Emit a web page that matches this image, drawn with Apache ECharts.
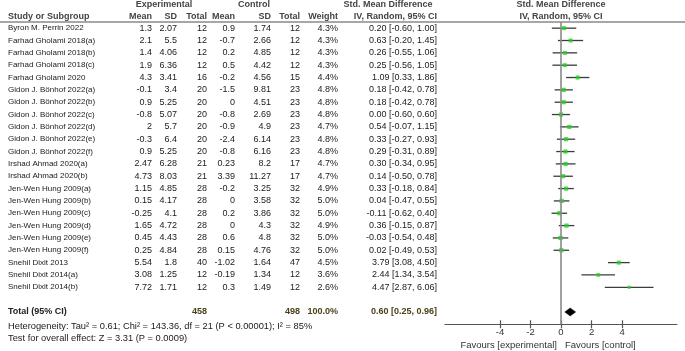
<!DOCTYPE html>
<html><head><meta charset="utf-8">
<script src="https://cdn.jsdelivr.net/npm/echarts@6/dist/echarts.min.js"></script>
<style>html,body{margin:0;padding:0;background:#fff}#c{width:685px;height:351px}</style>
</head><body><div id="c"></div>
<script>
const studies = ["Byron M. Perrin 2022","Farhad Gholami 2018(a)","Farhad Gholami 2018(b)","Farhad Gholami 2018(c)","Farhad Gholami 2020",
 "Gidon J. Bönhof 2022(a)","Gidon J. Bönhof 2022(b)","Gidon J. Bönhof 2022(c)","Gidon J. Bönhof 2022(d)","Gidon J. Bönhof 2022(e)","Gidon J. Bönhof 2022(f)",
 "Irshad Ahmad 2020(a)","Irshad Ahmad 2020(b)",
 "Jen-Wen Hung 2009(a)","Jen-Wen Hung 2009(b)","Jen-Wen Hung 2009(c)","Jen-Wen Hung 2009(d)","Jen-Wen Hung 2009(e)","Jen-Wen Hung 2009(f)",
 "Snehil Dixit 2013","Snehil Dixit 2014(a)","Snehil Dixit 2014(b)"];
const expMean = [1.3,2.1,1.4,1.9,4.3,-0.1,0.9,-0.8,2,-0.3,0.9,2.47,4.73,1.15,0.15,-0.25,1.65,0.45,0.25,5.54,3.08,7.72];
const expSD   = [2.07,5.5,4.06,6.36,3.41,3.4,5.25,5.07,5.7,6.4,5.25,6.28,8.03,4.85,4.17,4.1,4.72,4.43,4.84,1.8,1.25,1.71];
const expN    = [12,12,12,12,16,20,20,20,20,20,20,21,21,28,28,28,28,28,28,40,12,12];
const ctlMean = [0.9,-0.7,0.2,0.5,-0.2,-1.5,0,-0.8,-0.9,-2.4,-0.8,0.23,3.39,-0.2,0,0.2,0,0.6,0.15,-1.02,-0.19,0.3];
const ctlSD   = [1.74,2.66,4.85,4.42,4.56,9.81,4.51,2.69,4.9,6.14,6.16,8.2,11.27,3.25,3.58,3.86,4.3,4.8,4.76,1.64,1.34,1.49];
const ctlN    = [12,12,12,12,15,23,23,23,23,23,23,17,17,32,32,32,32,32,32,47,12,12];
const weight  = [4.3,4.3,4.3,4.3,4.4,4.8,4.8,4.8,4.7,4.8,4.8,4.7,4.7,4.9,5.0,5.0,4.9,5.0,5.0,4.5,3.6,2.6];
const smd     = [0.20,0.63,0.26,0.25,1.09,0.18,0.18,0.00,0.54,0.33,0.29,0.30,0.14,0.33,0.04,-0.11,0.36,-0.03,0.02,3.79,2.44,4.47];
const ciLow   = [-0.60,-0.20,-0.55,-0.56,0.33,-0.42,-0.42,-0.60,-0.07,-0.27,-0.31,-0.34,-0.50,-0.18,-0.47,-0.62,-0.15,-0.54,-0.49,3.08,1.34,2.87];
const ciHigh  = [1.00,1.45,1.06,1.05,1.86,0.78,0.78,0.60,1.15,0.93,0.89,0.95,0.78,0.84,0.55,0.40,0.87,0.48,0.53,4.50,3.54,6.06];
const totalExpN = 458, totalCtlN = 498, totalWeight = 100.0;
const pooled = [0.60, 0.25, 0.96];
const tickValues = [-4,-2,0,2,4];
const heterogeneityText = "Heterogeneity: Tau² = 0.61; Chi² = 143.36, df = 21 (P < 0.00001); I² = 85%";
const overallText = "Test for overall effect: Z = 3.31 (P = 0.0009)";

const FONT = '"Liberation Sans", Arial, sans-serif';
const FS = 9;
const NAME_FS = 8;
const totalRow = studies.length + 1;
const colX = {name:8, eM:152, eSD:177, eN:207, cM:235, cSD:271, cN:300, w:338, ci:437};
const bodyColor = '#1a1a1a', headColor = '#444', totColor = '#4a3f18';
const f2 = v => v.toFixed(2);

function txt(x, y, text, align, bold, color, size) {
  return {type:'text', x:x, y:y, silent:true,
    style:{text:text, textAlign:align, textVerticalAlign:'middle', fill:color||bodyColor,
      font:(bold?'bold ':'') + (size||FS) + 'px ' + FONT}};
}

const gridBox = {left:445, right:8, top:22, bottom:26.7, containLabel:false};
const xBase = {type:'value', min:-7.6, max:7.6, position:'bottom', splitLine:{show:false}};

const chart = echarts.init(document.getElementById('c'), null, {renderer:'canvas'});
const option = {
  animation:false,
  backgroundColor:'#fff',
  grid:[Object.assign({}, gridBox), Object.assign({}, gridBox)],
  xAxis:[Object.assign({}, xBase, {
    gridIndex:0,
    axisLine:{show:true, onZero:false, lineStyle:{color:'#555', width:1.2}},
    axisTick:{show:true, length:4, customValues:tickValues, lineStyle:{color:'#555', width:1.2}},
    axisLabel:{show:true, customValues:tickValues, fontSize:9.5, color:'#333', margin:3, fontFamily:FONT}
  }), Object.assign({}, xBase, {
    gridIndex:1,
    axisLine:{show:false, onZero:false},
    axisTick:{show:true, inside:true, length:4, customValues:tickValues, lineStyle:{color:'#555', width:1.2}},
    axisLabel:{show:false}
  })],
  yAxis:[{gridIndex:0, type:'value', inverse:true, min:-0.5, max:24, show:false},
         {gridIndex:1, type:'value', inverse:true, min:-0.5, max:24, show:false}],
  graphic:[
    {type:'line', shape:{x1:0, y1:22, x2:685, y2:22}, style:{stroke:'#8a8a8a', lineWidth:1.6}, z:1},
    txt(164, 5, 'Experimental', 'center', true, headColor),
    txt(254, 5, 'Control', 'center', true, headColor),
    txt(388, 5, 'Std. Mean Difference', 'center', true, headColor),
    txt(561, 5, 'Std. Mean Difference', 'center', true, headColor),
    txt(colX.name, 16.5, 'Study or Subgroup', 'left', true, headColor),
    txt(colX.eM, 16.5, 'Mean', 'right', true, headColor),
    txt(colX.eSD, 16.5, 'SD', 'right', true, headColor),
    txt(colX.eN, 16.5, 'Total', 'right', true, headColor),
    txt(colX.cM, 16.5, 'Mean', 'right', true, headColor),
    txt(colX.cSD, 16.5, 'SD', 'right', true, headColor),
    txt(colX.cN, 16.5, 'Total', 'right', true, headColor),
    txt(colX.w, 16.5, 'Weight', 'right', true, headColor),
    txt(colX.ci, 16.5, 'IV, Random, 95% CI', 'right', true, headColor),
    txt(561, 16.5, 'IV, Random, 95% CI', 'center', true, headColor),
    txt(colX.name, 326.5, heterogeneityText, 'left', false, bodyColor, 9.3),
    txt(colX.name, 338, overallText, 'left', false, bodyColor, 9.3),
    txt(557, 345, 'Favours [experimental]', 'right', false, '#333', 9.5),
    txt(565, 345, 'Favours [control]', 'left', false, '#333', 9.5)
  ],
  series:[
    { // table text rows
      type:'custom', clip:false, silent:true, z:5,
      data: studies.map((s,i)=>[0,i]),
      renderItem:function(params, api){
        const i = params.dataIndex;
        const y = api.coord([0, i])[1];
        return {type:'group', children:[
          txt(colX.name, y, studies[i], 'left', false, bodyColor, NAME_FS),
          txt(colX.eM, y, String(expMean[i]), 'right'),
          txt(colX.eSD, y, String(expSD[i]), 'right'),
          txt(colX.eN, y, String(expN[i]), 'right'),
          txt(colX.cM, y, String(ctlMean[i]), 'right'),
          txt(colX.cSD, y, String(ctlSD[i]), 'right'),
          txt(colX.cN, y, String(ctlN[i]), 'right'),
          txt(colX.w, y, weight[i].toFixed(1)+'%', 'right'),
          txt(colX.ci, y, f2(smd[i])+' ['+f2(ciLow[i])+', '+f2(ciHigh[i])+']', 'right')
        ]};
      }
    },
    { // total row text
      type:'custom', clip:false, silent:true, z:5,
      data:[[0,totalRow]],
      renderItem:function(params, api){
        const y = api.coord([0, totalRow])[1];
        return {type:'group', children:[
          txt(colX.name, y, 'Total (95% CI)', 'left', true, '#222'),
          txt(colX.eN, y, String(totalExpN), 'right', true, totColor),
          txt(colX.cN, y, String(totalCtlN), 'right', true, totColor),
          txt(colX.w, y, totalWeight.toFixed(1)+'%', 'right', true, totColor),
          txt(colX.ci, y, f2(pooled[0])+' ['+f2(pooled[1])+', '+f2(pooled[2])+']', 'right', true, totColor)
        ]};
      }
    },
    { // CI lines
      type:'custom', clip:false, silent:true, z:3,
      data: studies.map((s,i)=>[ciLow[i], ciHigh[i], i]),
      encode:{x:[0,1], y:2},
      renderItem:function(params, api){
        const p1 = api.coord([api.value(0), api.value(2)]);
        const p2 = api.coord([api.value(1), api.value(2)]);
        return {type:'line', shape:{x1:p1[0], y1:p1[1], x2:p2[0], y2:p2[1]},
          style:{stroke:'#3c3c3c', lineWidth:1.3}};
      }
    },
    { // squares
      type:'scatter', z:4, silent:true,
      symbol:'rect',
      data: studies.map((s,i)=>[smd[i], i, weight[i]]),
      symbolSize:function(v){ return 1.9*Math.sqrt(v[2]); },
      itemStyle:{color:'#1ed21e'},
      markLine:{silent:true, symbol:'none', label:{show:false},
        lineStyle:{color:'#8a8a8a', width:1.6, type:'solid'},
        data:[{xAxis:0}]}
    },
    { // pooled diamond
      type:'custom', clip:false, silent:true, z:4,
      data:[[pooled[0], pooled[1], pooled[2], totalRow]],
      renderItem:function(params, api){
        const r = api.value(3);
        const l = api.coord([api.value(1), r]);
        const c = api.coord([api.value(0), r]);
        const h = api.coord([api.value(2), r]);
        const hh = 4;
        return {type:'polygon', shape:{points:[[l[0],l[1]],[c[0],c[1]-hh],[h[0],h[1]],[c[0],c[1]+hh]]},
          style:{fill:'#000', stroke:'#000', lineWidth:0.5}};
      }
    }
  ]
};
chart.setOption(option);
</script></body></html>
